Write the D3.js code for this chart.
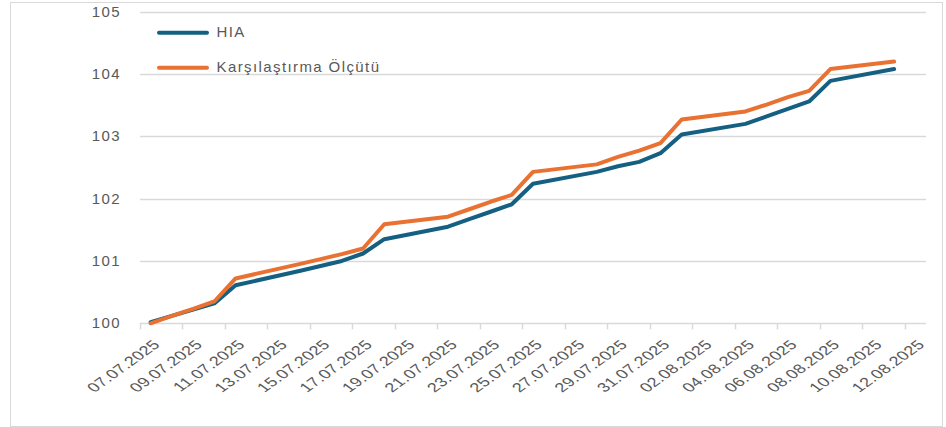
<!DOCTYPE html>
<html>
<head>
<meta charset="utf-8">
<script src="https://cdn.jsdelivr.net/npm/d3@7"></script>
<style>
  body { margin: 0; background: #fff; }
  text { font-family: "Liberation Sans", Arial, sans-serif; fill: #595959; }
</style>
</head>
<body>
<div id="chart"></div>
<script>
// Chart size
const width = 946;
const height = 427;

// Trading days and index values
const dates = ["07.07.2025", "08.07.2025", "09.07.2025", "10.07.2025", "11.07.2025",
    "14.07.2025", "15.07.2025", "16.07.2025", "17.07.2025", "18.07.2025",
    "21.07.2025", "22.07.2025", "23.07.2025", "24.07.2025", "25.07.2025",
    "28.07.2025", "29.07.2025", "30.07.2025", "31.07.2025", "01.08.2025",
    "04.08.2025", "05.08.2025", "06.08.2025", "07.08.2025", "08.08.2025",
    "11.08.2025"];
const hia = [100.02, 100.12, 100.22, 100.32, 100.61,
    100.84, 100.92, 101.00, 101.12, 101.35,
    101.55, 101.67, 101.79, 101.91, 102.24,
    102.43, 102.52, 102.59, 102.73, 103.03,
    103.20, 103.32, 103.44, 103.56, 103.89,
    104.08];
const benchmark = [100.00, 100.12, 100.23, 100.35, 100.72,
    100.95, 101.03, 101.11, 101.20, 101.59,
    101.71, 101.83, 101.95, 102.06, 102.43,
    102.55, 102.67, 102.77, 102.89, 103.27,
    103.40, 103.51, 103.63, 103.73, 104.08,
    104.20];

// Axis settings
const axisStart = "07.07.2025";
const axisEnd = "12.08.2025";
const tickLabels = ["07.07.2025", "09.07.2025", "11.07.2025", "13.07.2025", "15.07.2025",
    "17.07.2025", "19.07.2025", "21.07.2025", "23.07.2025", "25.07.2025",
    "27.07.2025", "29.07.2025", "31.07.2025", "02.08.2025", "04.08.2025",
    "06.08.2025", "08.08.2025", "10.08.2025", "12.08.2025"];
const yTicks = [100, 101, 102, 103, 104, 105];

const series = [
    { name: "HIA", values: hia, color: "#156082" },
    { name: "Karşılaştırma Ölçütü", values: benchmark, color: "#E97132" }
];

const parse = d3.timeParse("%d.%m.%Y");
const fmt = d3.timeFormat("%d.%m.%Y");

// Every calendar day is one slot on the date axis
const allDays = d3.timeDay.range(parse(axisStart), d3.timeDay.offset(parse(axisEnd), 1)).map(fmt);

const x = d3.scaleBand()
    .domain(allDays)
    .range([140, 926])
    .padding(0);

const y = d3.scaleLinear()
    .domain([100, 105])
    .range([323.3, 11.7]);

const svg = d3.select("#chart")
    .append("svg")
    .attr("width", width)
    .attr("height", height);

// Chart border
svg.append("rect")
    .attr("x", 10.5)
    .attr("y", 2.5)
    .attr("width", 932)
    .attr("height", 424)
    .attr("fill", "none")
    .attr("stroke", "#d9d9d9")
    .attr("stroke-width", 1);

// Gridlines
svg.append("g")
    .selectAll("line")
    .data(yTicks)
    .enter().append("line")
    .attr("x1", 140)
    .attr("x2", 926)
    .attr("y1", d => Math.round(y(d)) + 0.5)
    .attr("y2", d => Math.round(y(d)) + 0.5)
    .attr("stroke", "#d9d9d9")
    .attr("stroke-width", 1.5);

// Y labels
svg.append("g")
    .selectAll("text")
    .data(yTicks)
    .enter().append("text")
    .attr("x", 121)
    .attr("y", d => y(d))
    .attr("dy", "0.33em")
    .attr("text-anchor", "end")
    .style("font-size", "15px")
    .style("letter-spacing", "1.4px")
    .text(d => d);

// X tick marks at the left edge of each labelled slot
svg.append("g")
    .selectAll("line")
    .data(tickLabels)
    .enter().append("line")
    .attr("x1", d => Math.round(x(d)) + 0.5)
    .attr("x2", d => Math.round(x(d)) + 0.5)
    .attr("y1", y(100))
    .attr("y2", y(100) + 6)
    .attr("stroke", "#d9d9d9")
    .attr("stroke-width", 1.5);

// X labels: rotated 45deg, then widened like the source picture
svg.append("g")
    .selectAll("text")
    .data(tickLabels)
    .enter().append("text")
    .attr("transform", d => `translate(${x(d) + x.bandwidth() / 2 + 1},339) scale(1.4,1) rotate(-45)`)
    .attr("dy", "0.72em")
    .attr("text-anchor", "end")
    .style("font-size", "13px")
    .style("letter-spacing", "0.2px")
    .text(d => d);

// Lines
const line = d3.line()
    .x((d, i) => x(dates[i]) + x.bandwidth() / 2)
    .y(d => y(d));

svg.append("g")
    .selectAll("path")
    .data(series)
    .enter().append("path")
    .attr("d", d => line(d.values))
    .attr("fill", "none")
    .attr("stroke", d => d.color)
    .attr("stroke-width", 4)
    .attr("stroke-linejoin", "round")
    .attr("stroke-linecap", "round");

// Legend
const legend = svg.append("g")
    .selectAll("g")
    .data(series)
    .enter().append("g")
    .attr("transform", (d, i) => `translate(0,${32.7 + i * 35})`);

legend.append("line")
    .attr("x1", 159)
    .attr("x2", 207)
    .attr("stroke", d => d.color)
    .attr("stroke-width", 4)
    .attr("stroke-linecap", "round");

legend.append("text")
    .attr("x", 216.5)
    .attr("y", 4.6)
    .style("font-size", "15px")
    .style("letter-spacing", "1.4px")
    .text(d => d.name);
</script>
</body>
</html>
